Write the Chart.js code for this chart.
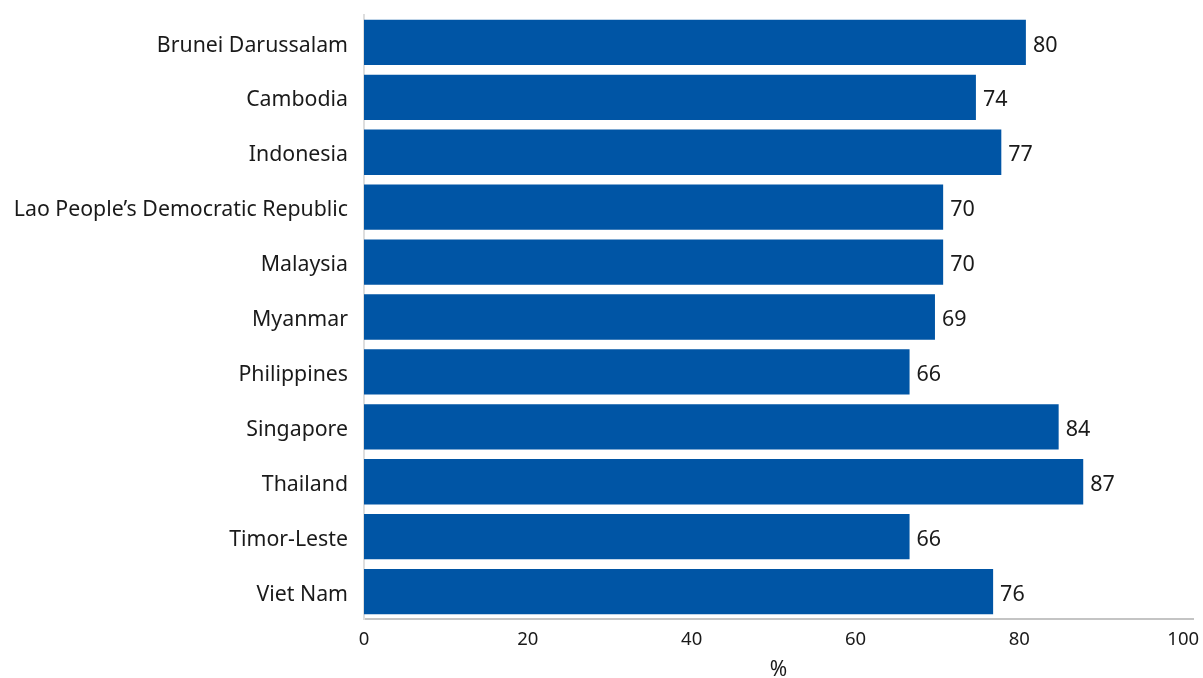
<!DOCTYPE html>
<html>
<head>
<meta charset="utf-8">
<script src="https://cdn.jsdelivr.net/npm/chart.js@4"></script>
<style>
html,body{margin:0;padding:0;background:#fff;}
#wrap{width:1203px;height:678px;position:relative;}
</style>
</head>
<body>
<div id="wrap"><canvas id="c" width="1203" height="678"></canvas></div>
<script>
const categories = ["Brunei Darussalam","Cambodia","Indonesia","Lao People\u2019s Democratic Republic","Malaysia","Myanmar","Philippines","Singapore","Thailand","Timor-Leste","Viet Nam"];
const values = [80.8, 74.7, 77.8, 70.7, 70.7, 69.7, 66.6, 84.8, 87.8, 66.6, 76.8];
const xTicks = [0, 20, 40, 60, 80, 100];
const xTitle = "%";

const FONT = "'Noto Sans', 'Open Sans', sans-serif";

const valueLabels = {
  id: 'valueLabels',
  afterDatasetsDraw(chart) {
    const ctx = chart.ctx;
    const meta = chart.getDatasetMeta(0);
    ctx.save();
    ctx.font = "21.5px " + FONT;
    ctx.fillStyle = "#1a1a1a";
    ctx.textAlign = "left";
    ctx.textBaseline = "middle";
    meta.data.forEach((bar, i) => {
      ctx.fillText(String(Math.floor(values[i])), bar.x + 7, bar.y + 3);
    });
    ctx.restore();
  }
};

new Chart(document.getElementById('c'), {
  type: 'bar',
  data: {
    labels: categories,
    datasets: [{
      data: values,
      backgroundColor: '#0055A5',
      borderWidth: 0,
      barPercentage: 0.825,
      categoryPercentage: 1.0
    }]
  },
  options: {
    indexAxis: 'y',
    responsive: false,
    animation: false,
    devicePixelRatio: 1,
    layout: { padding: { top: 15, right: 10, left: 0, bottom: 0 } },
    plugins: { legend: { display: false }, tooltip: { enabled: false } },
    scales: {
      x: {
        min: 0, max: 101.2,
        afterBuildTicks(scale) { scale.ticks = xTicks.map(v => ({ value: v })); },
        afterFit(scale) { scale.height = 59; scale.paddingLeft = 0; scale.paddingRight = 0; },
        grid: { display: false, drawTicks: false },
        border: { display: true, color: '#c4c4c4', width: 2 },
        ticks: { padding: 10, color: '#1a1a1a', font: { family: FONT, size: 18.5 }, maxRotation: 0 },
        title: { display: true, text: xTitle, color: '#1a1a1a', font: { family: FONT, size: 21 }, padding: { top: 4, bottom: -5 } }
      },
      y: {
        afterFit(scale) { scale.width = 364; scale.paddingTop = 0; scale.paddingBottom = 0; },
        grid: { display: false, drawTicks: false },
        border: { display: true, color: '#dedede', width: 2 },
        ticks: { padding: 16, labelOffset: 3, color: '#1a1a1a', font: { family: FONT, size: 21.3 }, autoSkip: false }
      }
    }
  },
  plugins: [valueLabels]
});
</script>
</body>
</html>
